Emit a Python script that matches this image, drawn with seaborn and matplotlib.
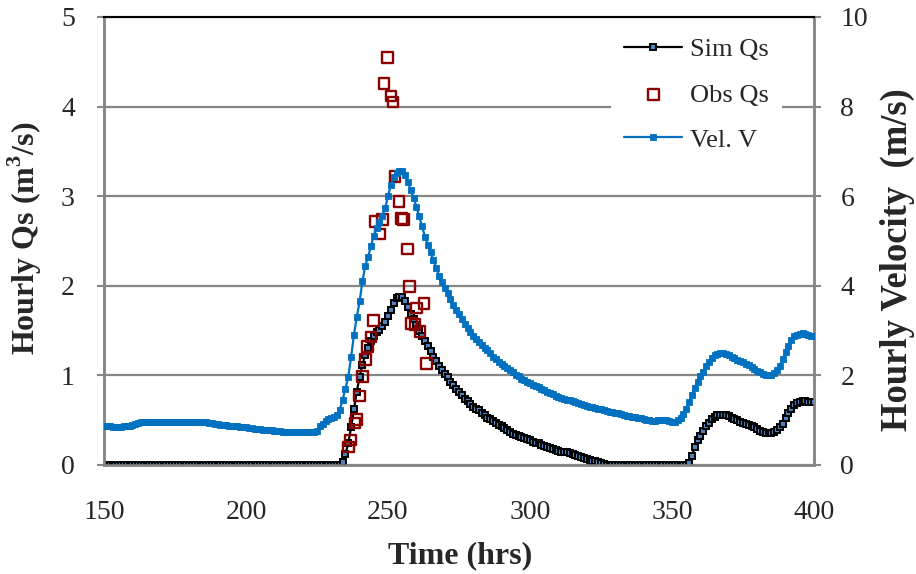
import numpy as np
import pandas as pd
import matplotlib
matplotlib.use("Agg")
import matplotlib.pyplot as plt
import seaborn as sns

# ---------------- data ----------------
hours = list(range(150, 401))

sim_qs = ([0.0] * 84 +  # 150..233
          [0.03, 0.12, 0.24, 0.42, 0.62, 0.82, 0.98, 1.12, 1.23, 1.31,   # 234..243
           1.38, 1.44, 1.48, 1.51, 1.55, 1.60, 1.66, 1.73, 1.81, 1.86,   # 244..253
           1.88, 1.87, 1.83, 1.76, 1.69, 1.63, 1.56, 1.50, 1.44, 1.38,   # 254..263
           1.33, 1.27, 1.21, 1.16, 1.11, 1.06, 1.02, 0.98, 0.93, 0.89,   # 264..273
           0.85, 0.81, 0.78, 0.74, 0.71, 0.68, 0.65, 0.63, 0.61, 0.58,   # 274..283
           0.56, 0.53, 0.51, 0.49, 0.47, 0.45, 0.43, 0.41, 0.39, 0.37,   # 284..293
           0.35, 0.34, 0.32, 0.31, 0.30, 0.29, 0.28, 0.26, 0.25, 0.24,   # 294..303
           0.22, 0.21, 0.20, 0.19, 0.18, 0.17, 0.16, 0.15, 0.14, 0.14,   # 304..313
           0.13, 0.12, 0.11, 0.10, 0.09, 0.08, 0.07, 0.06, 0.05, 0.04,   # 314..323
           0.03, 0.02, 0.01, 0.005] +                                    # 324..327
          [0.0] * 28 +  # 328..355
          [0.02, 0.10, 0.20, 0.28, 0.32, 0.38, 0.43, 0.47, 0.51, 0.54,   # 356..365
           0.56, 0.56, 0.56, 0.56, 0.55, 0.53, 0.51, 0.50, 0.48, 0.47,   # 366..375
           0.46, 0.45, 0.44, 0.42, 0.40, 0.38, 0.37, 0.36, 0.36, 0.36,   # 376..385
           0.37, 0.39, 0.42, 0.46, 0.52, 0.58, 0.63, 0.67, 0.69, 0.70,   # 386..395
           0.71, 0.71, 0.70, 0.70, 0.70])                                # 396..400

vel_v = ([0.88, 0.87, 0.86, 0.85, 0.84, 0.84, 0.85, 0.86, 0.87, 0.88,    # 150..159
          0.90, 0.92, 0.94, 0.95, 0.96] +                                # 160..164
         [0.97] * 21 +                                                   # 165..185
         [0.95, 0.94, 0.93, 0.92, 0.91, 0.90, 0.90, 0.89, 0.88, 0.87,    # 186..195
          0.86, 0.86, 0.85, 0.85, 0.84, 0.83, 0.82, 0.81, 0.80, 0.80,    # 196..205
          0.79, 0.79, 0.78, 0.78, 0.77, 0.76, 0.75, 0.74, 0.74, 0.73] +  # 206..215
         [0.73] * 9 +                                                    # 216..224
         [0.76, 0.86, 0.92, 0.98, 1.02, 1.05, 1.08, 1.12, 1.23, 1.45,    # 225..234
          1.70, 1.97, 2.40, 2.90, 3.30, 3.65, 4.10, 4.45, 4.65, 4.88,    # 235..244
          5.12, 5.30, 5.42, 5.55, 5.73, 6.00, 6.25, 6.42, 6.52, 6.57,    # 245..254
          6.57, 6.48, 6.32, 6.14, 5.96, 5.77, 5.55, 5.33, 5.10, 4.92,    # 255..264
          4.75, 4.57, 4.40, 4.22, 4.08, 3.96, 3.84, 3.71, 3.58, 3.47,    # 265..274
          3.36, 3.26, 3.15, 3.06, 2.97, 2.89, 2.81, 2.74, 2.68, 2.62,    # 275..284
          2.56, 2.49, 2.42, 2.36, 2.31, 2.26, 2.21, 2.16, 2.12, 2.07,    # 285..294
          2.02, 1.98, 1.93, 1.89, 1.85, 1.82, 1.79, 1.76, 1.73, 1.70,    # 295..304
          1.67, 1.63, 1.60, 1.58, 1.55, 1.52, 1.50, 1.48, 1.46, 1.44,    # 305..314
          1.42, 1.40, 1.38, 1.36, 1.34, 1.32, 1.30, 1.29, 1.27, 1.26,    # 315..324
          1.24, 1.22, 1.21, 1.19, 1.18, 1.16, 1.15, 1.13, 1.12, 1.10,    # 325..334
          1.09, 1.08, 1.07, 1.05, 1.04, 1.03, 1.01, 1.00, 0.99, 0.99,    # 335..344
          1.00, 1.01, 1.01, 1.00, 0.98, 0.97, 0.97, 1.00, 1.06, 1.14,    # 345..354
          1.26, 1.40, 1.56, 1.72, 1.86, 1.98, 2.08, 2.20, 2.30, 2.38,    # 355..364
          2.45, 2.48, 2.49, 2.49, 2.48, 2.46, 2.42, 2.38, 2.35, 2.32,    # 365..374
          2.29, 2.26, 2.23, 2.19, 2.14, 2.10, 2.07, 2.04, 2.02, 2.01,    # 375..384
          2.02, 2.06, 2.12, 2.22, 2.36, 2.52, 2.66, 2.78, 2.87, 2.91,    # 385..394
          2.93, 2.94, 2.93, 2.90, 2.88, 2.87])                           # 395..400

obs_hours = [236.0, 236.7, 238.4, 239.0, 239.9, 241.0, 242.0, 242.8, 244.0, 244.8,
             245.4, 247.2, 248.0, 248.6, 249.9, 251.0, 251.7, 252.5, 253.9, 254.8,
             255.4, 256.9, 257.6, 258.3, 259.5, 260.1, 261.3, 262.7, 263.6]
obs_qs = [0.20, 0.28, 0.47, 0.51, 0.77, 0.99, 1.18, 1.32, 1.43, 1.61,
          2.72, 2.58, 2.74, 4.26, 4.55, 4.12, 4.05, 3.22, 2.94, 2.75,
          2.74, 2.41, 1.99, 1.58, 1.57, 1.75, 1.49, 1.80, 1.13]

x_ticks = [150, 200, 250, 300, 350, 400]
qs_ticks = [0, 1, 2, 3, 4, 5]
vel_ticks = [0, 2, 4, 6, 8, 10]

sim_df = pd.DataFrame({"Time": hours, "Qs": sim_qs})
vel_df = pd.DataFrame({"Time": hours, "V": vel_v})
obs_df = pd.DataFrame({"Time": obs_hours, "Qs": obs_qs})

# ---------------- style ----------------
sns.set_theme(style="white")
plt.rcParams["font.family"] = ["Liberation Serif", "DejaVu Serif"]
plt.rcParams["mathtext.fontset"] = "custom"
plt.rcParams["mathtext.rm"] = "Liberation Serif"
plt.rcParams["mathtext.bf"] = "Liberation Serif:bold"

GRID = "#868686"
SIMC = "#000000"
SIMFILL = "#4F81BD"
OBSC = "#8B0000"
VELC = "#0070C0"
FS = 20

fig = plt.figure(figsize=(9.16, 5.74), dpi=100)
ax = fig.add_axes([104 / 916, 1 - 465 / 574, (814 - 104) / 916, (465 - 17) / 574])
ax2 = ax.twinx()

sns.lineplot(data=sim_df, x="Time", y="Qs", ax=ax, color=SIMC, linewidth=1.6,
             marker="s", markersize=4.8, markerfacecolor=SIMFILL,
             markeredgecolor=SIMC, markeredgewidth=1.4, label="Sim Qs",
             legend=False, zorder=3)
sns.scatterplot(data=obs_df, x="Time", y="Qs", ax=ax, marker="s", s=58,
                facecolor="none", edgecolor=OBSC, linewidth=1.7,
                label="Obs Qs", legend=False, zorder=4)
sns.lineplot(data=vel_df, x="Time", y="V", ax=ax2, color=VELC, linewidth=1.6,
             marker="s", markersize=5.0, markerfacecolor=VELC,
             markeredgecolor=VELC, markeredgewidth=0.6, label="Vel. V",
             legend=False, zorder=3)

ax.set_xlim(150, 400)
ax.set_ylim(0, 5)
ax2.set_ylim(0, 10)
ax.set_xticks(x_ticks)
ax.set_yticks(qs_ticks)
ax2.set_yticks(vel_ticks)
ax.set_xticklabels([str(t) for t in x_ticks], fontsize=FS)
ax.set_yticklabels([str(t) for t in qs_ticks], fontsize=FS)
ax2.set_yticklabels([str(t) for t in vel_ticks], fontsize=FS)

ax.yaxis.grid(True, color=GRID, linewidth=1.6)
ax.xaxis.grid(False)
ax2.grid(False)
ax.set_axisbelow(True)

for a in (ax, ax2):
    for side in ("left", "right", "bottom"):
        a.spines[side].set_color(GRID)
        a.spines[side].set_linewidth(1.8)
    a.spines["top"].set_color("black")
    a.spines["top"].set_linewidth(1.5)
    a.tick_params(axis="both", which="major", direction="out", length=5,
                  width=1.5, color=GRID)
ax.tick_params(axis="y", pad=16)
ax.tick_params(axis="x", pad=20)
ax2.tick_params(axis="y", pad=14)

ax.set_xlabel("Time (hrs)", fontsize=23, fontweight="bold", va="center", ha="center")
ax.xaxis.set_label_coords(0.501, -0.203)
ax.set_ylabel("Hourly Qs (m$^{\\mathbf{3}}$/s)", fontsize=23, fontweight="bold",
              va="center", ha="center")
ax.yaxis.set_label_coords(-0.111, 0.506)
ax2.set_ylabel("Hourly Velocity  (m/s)", fontsize=26.4, fontweight="bold",
               va="center", ha="center")
ax2.yaxis.set_label_coords(1.118, 0.458)

h1, l1 = ax.get_legend_handles_labels()
h2, l2 = ax2.get_legend_handles_labels()
leg = ax2.legend(h1 + h2, l1 + l2, loc="upper right", bbox_to_anchor=(0.974, 1.012),
                 fontsize=19, frameon=True, fancybox=False, framealpha=1.0,
                 edgecolor="white", handlelength=2.2, handletextpad=0.3,
                 labelspacing=0.82, borderpad=0.5)
leg.get_frame().set_linewidth(0)
leg.set_zorder(10)

fig.savefig("out.png", dpi=100)
